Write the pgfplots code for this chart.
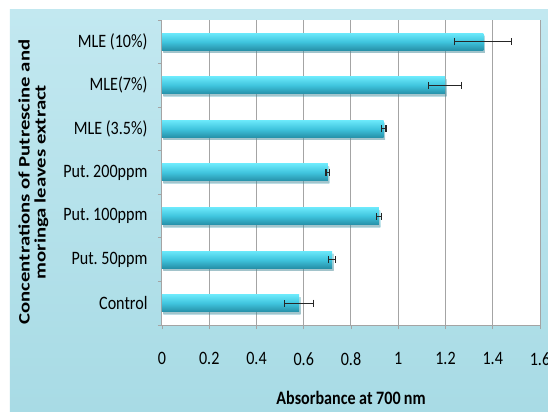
\documentclass[border=0pt]{standalone}
\usepackage{pgfplots}
\pgfplotsset{compat=1.18}
\usetikzlibrary{shadows}
\usepackage{graphicx}
\usepackage{fontspec}
\setmainfont{Carlito}[FakeStretch=0.85]
\newfontfamily\ylabfont{Carlito}
\definecolor{bgtop}{HTML}{C2E8F0}
\definecolor{bgbot}{HTML}{A8DBE5}
\definecolor{bartop}{HTML}{6AE8FA}
\definecolor{barmid}{HTML}{3FC4DD}
\definecolor{barbot}{HTML}{2690A8}
\definecolor{gridc}{HTML}{A4A4A4}
\pgfplotsset{
  mybar/.style={xbar, bar width=17bp, bar shift=0pt, draw=none,
    drop shadow={opacity=0.3, shadow xshift=1.5bp, shadow yshift=-2.5bp},
    top color=bartop, bottom color=barbot, middle color=barmid,
    error bars/.cd, x dir=both, x explicit, error mark=|,
    error bar style={line width=1.1pt, black!85},
    error mark options={line width=1.1pt, mark size=3.5bp, black!85}},
}
\begin{document}
\frenchspacing
\begin{tikzpicture}
\path[use as bounding box] (-162bp,-87bp) rectangle (386bp,325bp);
\fill[white] (-162bp,-87bp) rectangle (386bp,325bp);
\shade[top color=bgtop, bottom color=bgbot] (-152bp,-87bp) rectangle (386bp,315bp);
\begin{axis}[
  at={(0,0)}, anchor=south west,
  scale only axis, width=378bp, height=305bp,
  xmin=0, xmax=1.6, ymin=-0.5, ymax=6.5,
  axis background/.style={fill=white},
  axis lines*=left,
  axis line style={gridc, line width=1bp},
  xtick={0,0.2,...,1.6},
  xmajorgrids,
  major grid style={gridc, line width=1bp},
  tick align=outside,
  major tick length=4bp,
  tick style={gridc, line width=0.8bp},
  ytick={-0.5,0.5,...,6.5},
  yticklabels={},
  extra y ticks={0,1,2,3,4,5,6},
  extra y tick labels={Control,Put. 50ppm,Put. 100ppm,Put. 200ppm,MLE (3.5\%),MLE(7\%),MLE (10\%)},
  extra y tick style={major tick length=0pt, ymajorgrids=false},
  /pgf/number format/assume math mode=true,
  xticklabel style={font=\fontsize{19}{22}\selectfont, yshift=-20bp},
  yticklabel style={font=\fontsize{19}{22}\selectfont, xshift=-11bp},
  xlabel={Absorbance at 700\,nm},
  xlabel style={at={(axis description cs:0.5,-0.239)}, anchor=center, font=\bfseries\fontsize{19}{22}\selectfont},
  ylabel={\begin{tabular}{@{}c@{}}\scalebox{1.3}[1]{Concentrations of Putrescine and}\\[-2bp]\scalebox{1.3}[1]{moringa leaves extract}\end{tabular}},
  ylabel style={at={(axis description cs:-0.3386,0.469)}, anchor=center, font=\ylabfont\bfseries\fontsize{16}{18}\selectfont},
]
\addplot[mybar] coordinates {(0.580,0) +- (0.062,0)};
\addplot[mybar] coordinates {(0.720,1) +- (0.016,0)};
\addplot[mybar] coordinates {(0.918,2) +- (0.010,0)};
\addplot[mybar] coordinates {(0.702,3) +- (0.008,0)};
\addplot[mybar] coordinates {(0.938,4) +- (0.010,0)};
\addplot[mybar] coordinates {(1.198,5) +- (0.071,0)};
\addplot[mybar] coordinates {(1.360,6) +- (0.120,0)};
\end{axis}
\end{tikzpicture}
\end{document}
